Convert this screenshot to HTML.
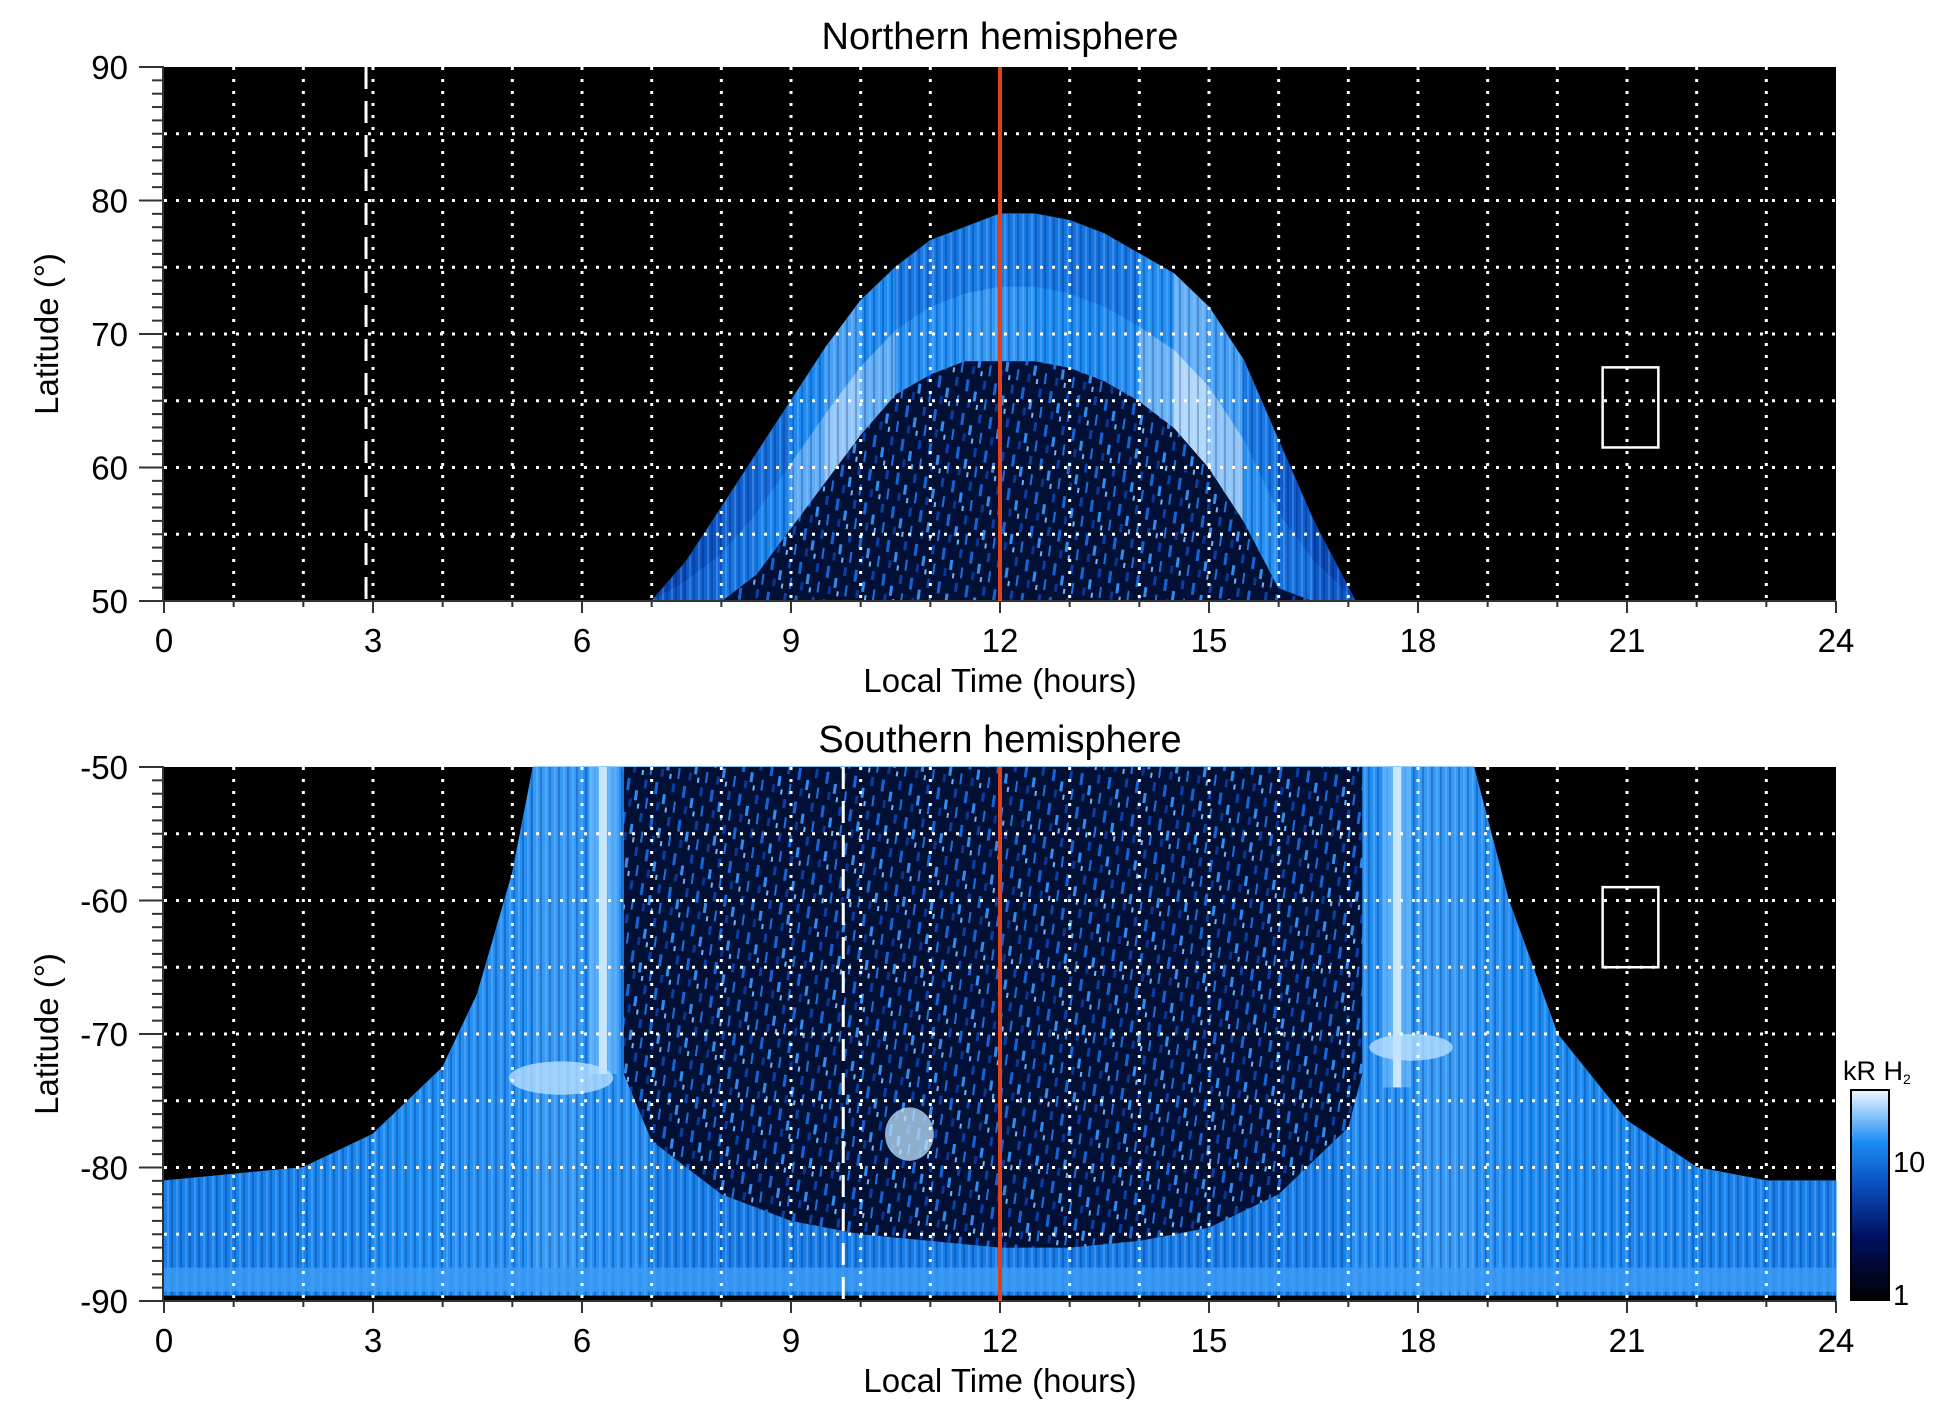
<!DOCTYPE html>
<html><head><meta charset="utf-8"><style>
html,body{margin:0;padding:0;background:#fff}
svg{display:block}
text{font-family:"Liberation Sans",Arial,sans-serif;fill:#000}
</style></head><body>
<svg id="chart" width="1950" height="1423" viewBox="0 0 1950 1423">
<defs>
<pattern id="speck" width="28" height="34" patternUnits="userSpaceOnUse" patternTransform="rotate(8)">
<rect width="28" height="34" fill="#031035"/>
<rect x="2" y="3" width="3" height="12" fill="#1464d8"/>
<rect x="11" y="14" width="3" height="10" fill="#2f8cf0"/>
<rect x="19" y="2" width="3" height="9" fill="#0b3fa8"/>
<rect x="23" y="20" width="2" height="11" fill="#1a70e0"/>
<rect x="6" y="23" width="3" height="8" fill="#0a3595"/>
<rect x="15" y="27" width="2" height="5" fill="#6ab8ff"/>
</pattern>
<pattern id="streak" width="9" height="40" patternUnits="userSpaceOnUse">
<rect x="0" y="0" width="2" height="40" fill="rgba(0,0,60,0.22)"/>
<rect x="5" y="0" width="2" height="40" fill="rgba(200,230,255,0.2)"/>
</pattern>
<linearGradient id="cbar" x1="0" y1="1" x2="0" y2="0">
<stop offset="0" stop-color="#000000"/><stop offset="0.3" stop-color="#001060"/>
<stop offset="0.55" stop-color="#0a4fc0"/><stop offset="0.75" stop-color="#1c8cf5"/>
<stop offset="1" stop-color="#f0f8ff"/></linearGradient>
</defs>
<g id="north"></g>
<g id="south"></g>
<g id="cb">
<rect x="1851" y="1090" width="38" height="210" fill="url(#cbar)" stroke="#000" stroke-width="2"/>
<text x="1893" y="1172" font-size="29">10</text>
<text x="1893" y="1305" font-size="29">1</text>
<text x="1843" y="1080" font-size="27">kR H<tspan font-size="14" dy="4">2</tspan></text>
</g>
</svg>
<script>
// ---- data ----
const ltN = [7,7.5,8,8.5,9,9.5,10,10.5,11,11.5,12,12.5,13,13.5,14,14.5,15,15.5,16,16.5,17.1];
const outerN = [50,53,57,61,65,69,72.5,75,77,78,79,79,78.5,77.5,76,74.5,72,68,62,56,50];
const innerN = [50,50,50,52,55.5,59,62.5,65.5,67,68,68,68,67.5,66.5,65,63,60,56,51,50,50];
const brightN = [0.55,0.6,0.65,0.7,0.75,0.9,0.88,0.78,0.74,0.78,0.78,0.76,0.74,0.74,0.78,0.9,0.95,0.82,0.7,0.62,0.55];
const ltS = [0,1,2,3,4,4.5,5,5.3,6,7,8,9,10,11,12,13,14,15,16,17,18,18.8,19.3,20,21,22,23,24];
const edgeS = [-81,-80.5,-80,-77.5,-72.5,-67,-58,-50,-50,-50,-50,-50,-50,-50,-50,-50,-50,-50,-50,-50,-50,-50,-60,-70,-76.5,-80,-81,-81];
const brightS = [0.7,0.72,0.72,0.74,0.76,0.76,0.76,0.76,0.8,0.72,0.7,0.7,0.7,0.7,0.7,0.7,0.7,0.7,0.7,0.72,0.8,0.76,0.76,0.74,0.74,0.72,0.72,0.7];
const ltDark = [6.6,7,8,9,10,11,12,13,14,15,16,17,17.2];
const darkBottom = [-73,-78,-82,-84,-85,-85.5,-86,-86,-85.5,-84.5,-82,-77,-73];
const streakLT = [6.3,17.7];
const streakTop = [-50,-50];
const streakBot = [-73,-74];
const patchLT = [5.7,10.7,17.9];
const patchLat = [-73.3,-77.5,-71];
const patchW = [1.5,0.7,1.2];
const patchH = [2.5,4,2];
const xTicks = [0,3,6,9,12,15,18,21,24];
const yTicksN = [50,60,70,80,90];
const yTicksS = [-90,-80,-70,-60,-50];
const noonLT = 12;
const dashLTN = 2.9, dashLTS = 9.75;

const NS='http://www.w3.org/2000/svg';
const X0=164, X1=1836;
const x = t => X0 + t*(X1-X0)/24;
function mk(tag, attrs, parent){const e=document.createElementNS(NS,tag);for(const k in attrs)e.setAttribute(k,attrs[k]);parent.appendChild(e);return e;}
function col(b){
  const stops=[[0,[0,0,0]],[0.3,[0,16,96]],[0.55,[10,79,192]],[0.75,[28,140,245]],[1,[240,248,255]]];
  for(let i=1;i<stops.length;i++){if(b<=stops[i][0]){const [a,ca]=stops[i-1],[c,cc]=stops[i];const f=(b-a)/(c-a);
    return 'rgb('+ca.map((v,j)=>Math.round(v+(cc[j]-v)*f)).join(',')+')';}}
  return 'rgb(240,248,255)';
}
function frame(g, top, latTop, latBot, which){
  const H=534; const y = l => top + (latTop-l)*H/(latTop-latBot);
  const bg=mk('rect',{x:X0,y:top,width:X1-X0,height:H,fill:'#000'},g);
  
  
  return y;
}
function grid(g, top, y, latTop, latBot, yTicks, which){
  const H=534;
  for(let h=1;h<24;h++){const l=mk('line',{x1:x(h),x2:x(h),y1:top,y2:top+H,stroke:'#fff','stroke-width':3,'stroke-dasharray':'3,9'},g);
    
    }
  for(let l=Math.min(latTop,latBot)+5;l<Math.max(latTop,latBot);l+=5){const e=mk('line',{x1:X0,x2:X1,y1:y(l),y2:y(l),stroke:'#fff','stroke-width':3,'stroke-dasharray':'3,9'},g);
    
    }
  const ax=mk('g',{stroke:'#333','stroke-width':2},g);
  
  
  mk('line',{x1:X0-1,x2:X0-1,y1:top,y2:top+H},ax);
  mk('line',{x1:X0,x2:X1,y1:top+H,y2:top+H},ax);
  for(let l=Math.min(latTop,latBot);l<=Math.max(latTop,latBot);l++){
    const major=(l%10===0); mk('line',{x1:X0-(major?25:12),x2:X0,y1:y(l),y2:y(l)},ax);}
  for(let h=0;h<=24;h++){mk('line',{x1:x(h),x2:x(h),y1:top+H,y2:top+H+(h%3===0?12:6)},ax);}
  xTicks.forEach(t=>{const e=mk('text',{x:x(t),y:top+H+51,'font-size':33,'text-anchor':'middle'},g);e.textContent=t;
    
    });
  yTicks.forEach(t=>{const e=mk('text',{x:X0-36,y:y(t)+12,'font-size':33,'text-anchor':'end'},g);e.textContent=t;
    
    });
  const xt=mk('text',{x:1000,y:top+H+91,'font-size':33,'text-anchor':'middle'},g);xt.textContent='Local Time (hours)';
  
  
  const yt=mk('text',{x:0,y:0,'font-size':33,'text-anchor':'middle',transform:'translate(58,'+(top+H/2)+') rotate(-90)'},g);yt.textContent='Latitude (°)';
  
  
}

// ---- North ----
const gN=document.getElementById('north');
const topN=67;
const yN=frame(gN,topN,90,50,"north");
const tN=mk('text',{x:1000,y:49,'font-size':38,'text-anchor':'middle'},gN);tN.textContent='Northern hemisphere';


let pts=ltN.map((t,i)=>x(t)+','+yN(innerN[i])).join(' ');
const inner=mk('polygon',{points:pts+' '+x(17.1)+','+yN(50)+' '+x(7)+','+yN(50),fill:'url(#speck)'},gN);


for(let i=0;i<ltN.length-1;i++){
  const b=(brightN[i]+brightN[i+1])/2;
  const mid=i=> (outerN[i]*0.5+innerN[i]*0.5);
  const o=mk('polygon',{points:[x(ltN[i])+','+yN(outerN[i]),x(ltN[i+1])+','+yN(outerN[i+1]),x(ltN[i+1])+','+yN(mid(i+1)),x(ltN[i])+','+yN(mid(i))].join(' '),fill:col(b*0.9),stroke:col(b*0.9),'stroke-width':1},gN);
  
  
  const n=mk('polygon',{points:[x(ltN[i])+','+yN(mid(i)),x(ltN[i+1])+','+yN(mid(i+1)),x(ltN[i+1])+','+yN(innerN[i+1]),x(ltN[i])+','+yN(innerN[i])].join(' '),fill:col(b),stroke:col(b),'stroke-width':1},gN);
  
  
}
const stN=mk('polygon',{points:ltN.map((t,i)=>x(t)+','+yN(outerN[i])).join(' ')+' '+ltN.slice().reverse().map((t,i)=>x(t)+','+yN(innerN[ltN.length-1-i])).join(' '),fill:'url(#streak)'},gN);


grid(gN,topN,yN,90,50,yTicksN,'north');
let d=mk('line',{x1:x(dashLTN),x2:x(dashLTN),y1:topN,y2:topN+534,stroke:'#fff','stroke-width':3,'stroke-dasharray':'22,12'},gN);


let r=mk('line',{x1:x(noonLT),x2:x(noonLT),y1:topN,y2:topN+534,stroke:'#e0401a','stroke-width':4},gN);


let bx=mk('rect',{x:x(20.65),y:yN(67.5),width:x(21.45)-x(20.65),height:yN(61.5)-yN(67.5),fill:'none',stroke:'#fff','stroke-width':2.5},gN);



// ---- South ----
const gS=document.getElementById('south');
const topS=767;
const yS=frame(gS,topS,-50,-90,"south");
const tS=mk('text',{x:1000,y:752,'font-size':38,'text-anchor':'middle'},gS);tS.textContent='Southern hemisphere';


for(let i=0;i<ltS.length-1;i++){
  const b=(brightS[i]+brightS[i+1])/2;
  const seg=mk('polygon',{points:[x(ltS[i])+','+yS(edgeS[i]),x(ltS[i+1])+','+yS(edgeS[i+1]),x(ltS[i+1])+','+yS(-90),x(ltS[i])+','+yS(-90)].join(' '),fill:col(b),stroke:col(b),'stroke-width':1},gS);
  
  
}
const stS=mk('polygon',{points:ltS.map((t,i)=>x(t)+','+yS(edgeS[i])).join(' ')+' '+x(24)+','+yS(-90)+' '+x(0)+','+yS(-90),fill:'url(#streak)'},gS);


const band=mk('rect',{x:X0,y:yS(-87.5),width:X1-X0,height:yS(-89.3)-yS(-87.5),fill:'#3d9cf6',opacity:0.8},gS);


const dk=mk('polygon',{points:ltDark.map((t,i)=>x(t)+','+yS(darkBottom[i])).join(' ')+' '+x(17.2)+','+yS(-50)+' '+x(6.6)+','+yS(-50),fill:'url(#speck)'},gS);


streakLT.forEach((t,i)=>{
  const s=mk('rect',{x:x(t)-14,y:yS(streakTop[i]),width:28,height:yS(streakBot[i])-yS(streakTop[i]),fill:'#7cc4ff',opacity:0.6},gS);
  
  
  const s2=mk('rect',{x:x(t)-4,y:yS(streakTop[i]),width:8,height:yS(streakBot[i])-yS(streakTop[i]),fill:'#dff1ff',opacity:0.85},gS);
  
  
});
patchLT.forEach((t,i)=>{
  const p=mk('ellipse',{cx:x(t),cy:yS(patchLat[i]),rx:(x(patchW[i])-x(0))/2,ry:(yS(-50-patchH[i])-yS(-50))/2,fill:'#bfe3ff',opacity:0.75},gS);
  
  
});
const bl=mk('rect',{x:X0,y:yS(-89.6),width:X1-X0,height:yS(-90)-yS(-89.6),fill:'#000'},gS);


grid(gS,topS,yS,-50,-90,yTicksS,'south');
d=mk('line',{x1:x(dashLTS),x2:x(dashLTS),y1:topS,y2:topS+534,stroke:'#fff','stroke-width':3,'stroke-dasharray':'22,12'},gS);


r=mk('line',{x1:x(noonLT),x2:x(noonLT),y1:topS,y2:topS+534,stroke:'#e0401a','stroke-width':4},gS);


bx=mk('rect',{x:x(20.65),y:yS(-59),width:x(21.45)-x(20.65),height:yS(-65)-yS(-59),fill:'none',stroke:'#fff','stroke-width':2.5},gS);


</script>
</body></html>
